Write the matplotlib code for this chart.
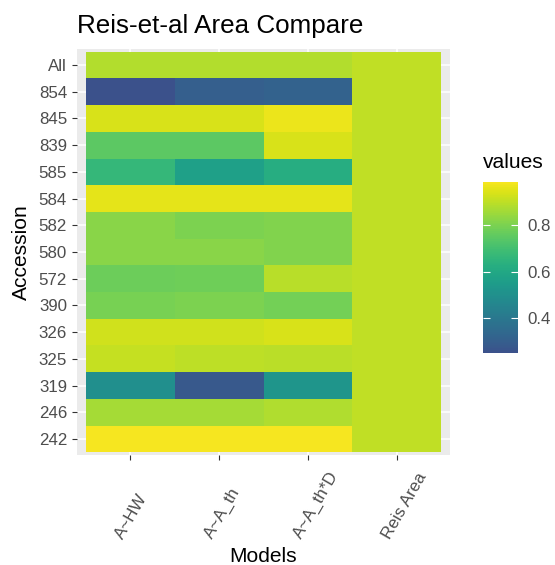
import numpy as np
import matplotlib
matplotlib.use("Agg")
import matplotlib.pyplot as plt
from matplotlib.colors import ListedColormap, Normalize
from matplotlib.transforms import ScaledTranslation

plt.rcParams['font.family'] = ['Liberation Sans', 'DejaVu Sans']

# accessions, bottom to top
accessions = ['242', '246', '319', '325', '326', '390', '572', '580',
              '582', '584', '585', '839', '845', '854', 'All']
models = ['A~HW', 'A~A_th', 'A~A_th*D', 'Reis Area']

hw = [0.987, 0.865, 0.495, 0.91, 0.925, 0.795, 0.775, 0.82,
      0.82, 0.96, 0.665, 0.75, 0.94, 0.248, 0.885]
a_th = [0.985, 0.865, 0.275, 0.90, 0.925, 0.80, 0.78, 0.82,
        0.80, 0.96, 0.565, 0.75, 0.94, 0.30, 0.885]
a_th_d = [0.987, 0.88, 0.52, 0.895, 0.94, 0.785, 0.89, 0.81,
          0.81, 0.96, 0.625, 0.94, 0.97, 0.31, 0.885]
reis_area = [0.905] * 15

cbar_ticks = [0.4, 0.6, 0.8]

values = np.column_stack([hw, a_th, a_th_d, reis_area])
vmin, vmax = values.min(), values.max()
cmap = ListedColormap(plt.cm.viridis(np.linspace(vmin, vmax, 256)))
norm = Normalize(vmin, vmax)

W, H = 555, 565
fig = plt.figure(figsize=(W / 100, H / 100), dpi=100)
ax = fig.add_axes([77 / W, 1 - 455 / H, 373 / W, 406 / H])
ax.set_facecolor('#EBEBEB')

x_edges = np.arange(len(models) + 1) + 0.5
y_edges = np.arange(len(accessions) + 1) + 0.5
mesh = ax.pcolormesh(x_edges, y_edges, values, cmap=cmap, norm=norm, zorder=2)

ax.set_xlim(0.4, len(models) + 0.6)
ax.set_ylim(0.4, len(accessions) + 0.6)
ax.set_xticks(np.arange(1, len(models) + 1))
ax.set_yticks(np.arange(1, len(accessions) + 1))
ax.set_xticklabels(models)
ax.set_yticklabels(accessions)
ax.grid(color='white', lw=1.1)
ax.set_axisbelow(True)
for s in ax.spines.values():
    s.set_visible(False)

ax.tick_params(axis='both', length=3.6, width=0.8, color='#333333',
               labelcolor='#4D4D4D', labelsize=12.2)
ax.tick_params(axis='y', pad=3.6)
ax.tick_params(axis='x', pad=57.5)
shift = ScaledTranslation(-7 / 100, 0, fig.dpi_scale_trans)
for lbl in ax.get_xticklabels():
    lbl.set_rotation(60)
    lbl.set_rotation_mode('anchor')
    lbl.set_ha('left')
    lbl.set_va('baseline')
    lbl.set_transform(lbl.get_transform() + shift)

ax.set_ylabel('Accession', fontsize=15.1, va='center')
ax.yaxis.set_label_coords((21 - 77) / 373, 0.5)
ax.set_xlabel('Models', fontsize=15.1, va='baseline')
ax.xaxis.set_label_coords(0.5, (455 - 562) / 406)

fig.text(77 / W, 1 - 33 / H, 'Reis-et-al Area Compare', fontsize=18.7,
         va='baseline', ha='left')

# colour bar legend
cax = fig.add_axes([483 / W, 1 - 353 / H, 35 / W, 171 / H])
cb = fig.colorbar(mesh, cax=cax, ticks=cbar_ticks)
cb.outline.set_visible(False)
cax.tick_params(left=True, right=True, labelleft=False, labelright=True,
                direction='in', color='white', length=5, width=0.8,
                labelsize=12.2, labelcolor='#4D4D4D', pad=7)
fig.text(483 / W, 1 - 168 / H, 'values', fontsize=15.1, va='baseline', ha='left')

fig.savefig('out.png', dpi=100)
